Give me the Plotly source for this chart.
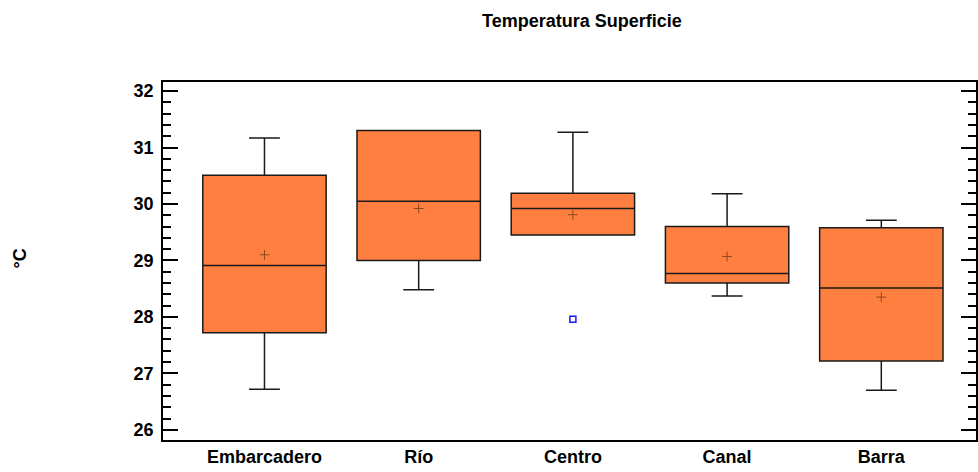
import plotly.graph_objects as go

# Five-number summaries of surface temperature (°C) per sampling site
sites = ["Embarcadero", "Río", "Centro", "Canal", "Barra"]
lower_whisker = [26.72, 28.48, 29.45, 28.37, 26.70]
q1 = [27.72, 29.00, 29.45, 28.60, 27.22]
median = [28.91, 30.05, 29.92, 28.77, 28.51]
q3 = [30.51, 31.30, 30.19, 29.60, 29.58]
upper_whisker = [31.17, 31.30, 31.27, 30.18, 29.71]
mean = [29.10, 29.92, 29.81, 29.07, 28.35]

# Outlying observations
outlier_site = ["Centro"]
outlier_value = [27.96]

y_ticks = [26, 27, 28, 29, 30, 31, 32]

FONT = "Liberation Sans, Arial, sans-serif"
FILL = "#FF7F40"

fig = go.Figure()

for i, s in enumerate(sites):
    fig.add_trace(go.Box(
        x=[s],
        q1=[q1[i]], median=[median[i]], q3=[q3[i]],
        lowerfence=[lower_whisker[i]], upperfence=[upper_whisker[i]],
        boxpoints=False,
        fillcolor=FILL,
        line=dict(color="#1a1a1a", width=1.5),
        width=0.8,
        whiskerwidth=0.25,
        showlegend=False,
        hoverinfo="skip",
    ))

# Means drawn as small crosses
fig.add_trace(go.Scatter(
    x=sites, y=mean, mode="markers",
    marker=dict(symbol="cross-thin", size=7, line=dict(color="#8B4A1A", width=1)),
    showlegend=False, hoverinfo="skip",
))

# Outliers as open squares
fig.add_trace(go.Scatter(
    x=outlier_site, y=outlier_value, mode="markers",
    marker=dict(symbol="square-open", size=6, color="#1a1aff", line=dict(width=1.5)),
    showlegend=False, hoverinfo="skip",
))

fig.update_layout(
    width=978, height=472,
    margin=dict(l=163, r=0, t=82, b=32),
    paper_bgcolor="white", plot_bgcolor="white",
    font=dict(family=FONT, color="black"),
    title=dict(text="<b>Temperatura Superficie</b>", x=0.595, xanchor="center",
               y=0.957, yanchor="middle", font=dict(size=18, family=FONT)),
    showlegend=False,
)

# Y axis title placed beside the tick labels
fig.add_annotation(
    text="<b>°C</b>", textangle=-90, showarrow=False,
    xref="paper", yref="paper", x=(20 - 163) / 815, y=0.508,
    xanchor="center", yanchor="middle",
    font=dict(size=18, family=FONT),
)

fig.update_xaxes(
    type="category", categoryorder="array", categoryarray=sites,
    range=[-0.658, 4.614],
    showline=True, linecolor="black", linewidth=1.5, mirror=True,
    ticks="", showgrid=False, zeroline=False,
    tickfont=dict(size=18, family=FONT),
    tickprefix="<b>", ticksuffix="</b>",
)

fig.update_yaxes(
    range=[25.82, 32.16],
    tickvals=y_ticks, ticktext=[f"<b>{v}</b>" for v in y_ticks],
    ticks="inside", ticklen=15, tickwidth=1.5, tickcolor="black",
    minor=dict(dtick=0.2, ticks="inside", ticklen=8, tickwidth=1.5, tickcolor="black"),
    showline=True, linecolor="black", linewidth=1.5, mirror="ticks",
    showgrid=False, zeroline=False,
    tickfont=dict(size=18, family=FONT),
    ticklabelstandoff=4,
)

fig.write_html("out.html")
